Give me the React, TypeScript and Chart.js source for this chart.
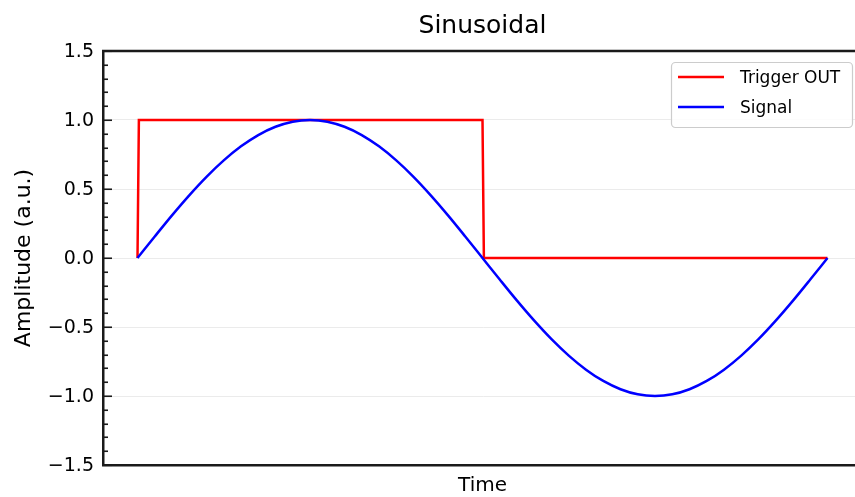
import { useEffect, useRef } from "react";
import { Chart, registerables } from "chart.js";

Chart.register(...registerables);

// ---- data ----
const time = [
  0, 0.025, 0.05, 0.075, 0.1, 0.125, 0.15, 0.175, 0.2, 0.225, 0.25, 0.275, 0.3, 0.325,
  0.35, 0.375, 0.4, 0.425, 0.45, 0.475, 0.5, 0.525, 0.55, 0.575, 0.6, 0.625, 0.65,
  0.675, 0.7, 0.725, 0.75, 0.775, 0.8, 0.825, 0.85, 0.875, 0.9, 0.925, 0.95, 0.975, 1.0,
];
const signal = [
  0, 0.156, 0.309, 0.454, 0.588, 0.707, 0.809, 0.891, 0.951, 0.988, 1.0, 0.988, 0.951,
  0.891, 0.809, 0.707, 0.588, 0.454, 0.309, 0.156, 0, -0.156, -0.309, -0.454, -0.588,
  -0.707, -0.809, -0.891, -0.951, -0.988, -1.0, -0.988, -0.951, -0.891, -0.809, -0.707,
  -0.588, -0.454, -0.309, -0.156, 0,
];
const triggerTime = [0, 0.002, 0.5, 0.502, 1.0];
const triggerOut = [0, 1, 1, 0, 0];
const yTicks = [-1.5, -1.0, -0.5, 0, 0.5, 1.0, 1.5];
const seriesNames = ["Trigger OUT", "Signal"];
const seriesColors = ["#ff0000", "#0000ff"];
const chartTitle = "Sinusoidal";
const xTitle = "Time";
const yTitle = "Amplitude (a.u.)";

const FONT = "'DejaVu Sans', sans-serif";
const SPINE = "#1a1a1a";

const axesPlugin = {
  id: "axesDecor",
  afterDatasetsDraw(chart: any) {
    const { ctx, chartArea } = chart;
    const y = chart.scales.y;
    ctx.save();
    // top spine
    ctx.strokeStyle = SPINE;
    ctx.lineWidth = 2.5;
    ctx.beginPath();
    ctx.moveTo(chartArea.left - 1, chartArea.top);
    ctx.lineTo(chartArea.right + 1, chartArea.top);
    ctx.stroke();
    // inward major + minor ticks on the left spine
    ctx.lineWidth = 1.6;
    for (let i = -15; i <= 15; i++) {
      const v = i / 10;
      const py = Math.round(y.getPixelForValue(v)) + 0.25;
      const major = i % 5 === 0;
      const len = major ? 9 : 5;
      ctx.beginPath();
      ctx.moveTo(chartArea.left, py);
      ctx.lineTo(chartArea.left + len, py);
      ctx.stroke();
    }
    ctx.restore();
  },
};

const legendPlugin = {
  id: "boxLegend",
  afterDraw(chart: any) {
    const { ctx, chartArea } = chart;
    const w = 181;
    const h = 65;
    const x0 = chartArea.right - 10 - w;
    const y0 = chartArea.top + 11;
    ctx.save();
    ctx.fillStyle = "rgba(255,255,255,0.85)";
    ctx.strokeStyle = "#cccccc";
    ctx.lineWidth = 1.2;
    ctx.beginPath();
    (ctx as any).roundRect(x0 + 0.5, y0 + 0.5, w, h, 4);
    ctx.fill();
    ctx.stroke();
    ctx.font = `17px ${FONT}`;
    ctx.textBaseline = "middle";
    ctx.textAlign = "left";
    seriesNames.forEach((name, i) => {
      const ly = y0 + 15 + i * 30;
      ctx.strokeStyle = seriesColors[i];
      ctx.lineWidth = 2.5;
      ctx.beginPath();
      ctx.moveTo(x0 + 7, ly);
      ctx.lineTo(x0 + 53, ly);
      ctx.stroke();
      ctx.fillStyle = "#000";
      ctx.fillText(name, x0 + 69, ly + 1.5);
    });
    ctx.restore();
  },
};

export default function App() {
  const ref = useRef<HTMLCanvasElement | null>(null);

  useEffect(() => {
    if (!ref.current) return;
    const chart = new Chart(ref.current, {
      type: "line",
      data: {
        datasets: [
          {
            label: seriesNames[0],
            data: triggerTime.map((t, i) => ({ x: t, y: triggerOut[i] })),
            borderColor: seriesColors[0],
            backgroundColor: seriesColors[0],
            borderWidth: 2.5,
            pointRadius: 0,
            tension: 0,
            order: 1,
          },
          {
            label: seriesNames[1],
            data: time.map((t, i) => ({ x: t, y: signal[i] })),
            borderColor: seriesColors[1],
            backgroundColor: seriesColors[1],
            borderWidth: 2.5,
            pointRadius: 0,
            cubicInterpolationMode: "monotone",
            order: 0,
          },
        ],
      },
      options: {
        animation: false,
        responsive: true,
        maintainAspectRatio: false,
        layout: { padding: { left: 0, right: 8, top: 0, bottom: 0 } },
        plugins: {
          legend: { display: false },
          tooltip: { enabled: false },
          title: {
            display: true,
            text: chartTitle,
            fullSize: false,
            color: "#000",
            font: { family: FONT, size: 25, weight: "normal", lineHeight: 1.2 },
            padding: { top: 11.5, bottom: 9.5 },
          },
        },
        scales: {
          x: {
            type: "linear",
            min: -0.05,
            max: 1.05,
            ticks: { display: false },
            grid: { display: false, drawTicks: false },
            border: { display: true, color: SPINE, width: 2.5 },
            title: {
              display: true,
              text: xTitle,
              color: "#000",
              font: { family: FONT, size: 20, lineHeight: 1 },
              padding: { top: 0, bottom: 1.5 },
            },
            afterFit(scale: any) {
              scale.height = 32;
            },
          },
          y: {
            type: "linear",
            min: -1.5,
            max: 1.5,
            afterBuildTicks(scale: any) {
              scale.ticks = yTicks.map((v) => ({ value: v }));
            },
            ticks: {
              color: "#000",
              font: { family: FONT, size: 19 },
              padding: 9,
              labelOffset: 1.5,
              callback: (v: any) => Number(v).toFixed(1).replace("-", "\u2212"),
            },
            grid: { color: "#ebebeb", lineWidth: 1, drawTicks: false },
            border: { display: true, color: SPINE, width: 2.5 },
            title: {
              display: true,
              text: yTitle,
              color: "#000",
              font: { family: FONT, size: 22, lineHeight: 1.2 },
              padding: { top: 11, bottom: 0 },
            },
            afterFit(scale: any) {
              scale.width = 103;
            },
          },
        },
      },
      plugins: [axesPlugin, legendPlugin],
    });
    return () => chart.destroy();
  }, []);

  return (
    <div
      style={{
        position: "absolute",
        left: 0,
        top: 0,
        width: 855,
        height: 497,
        overflow: "hidden",
        background: "#fff",
      }}
    >
      <div style={{ position: "relative", width: 870, height: 497 }}>
        <canvas ref={ref} />
      </div>
    </div>
  );
}
